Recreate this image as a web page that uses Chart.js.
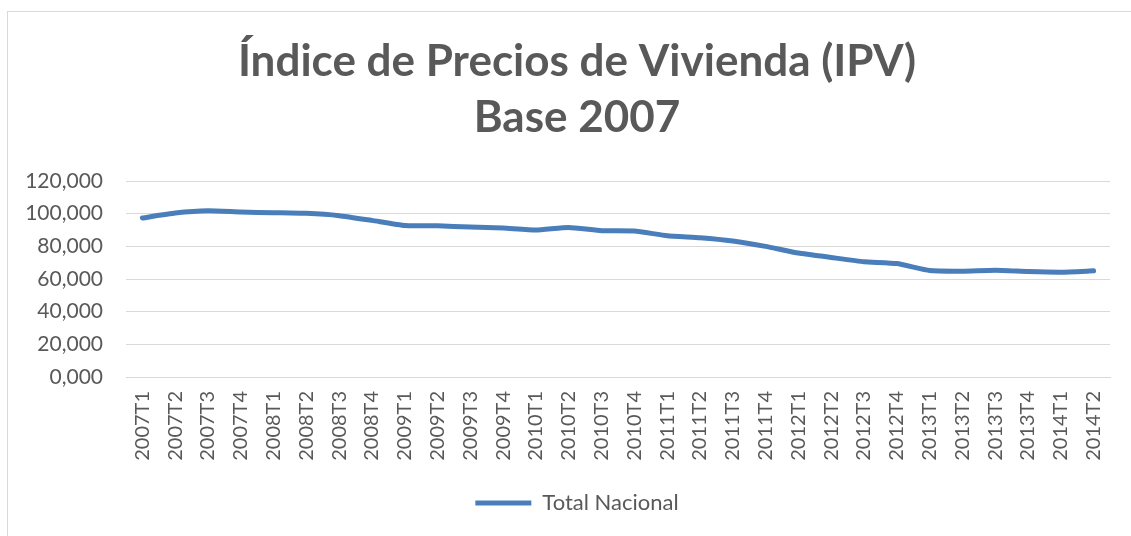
<!DOCTYPE html>
<html>
<head>
<meta charset="utf-8">
<script src="https://cdn.jsdelivr.net/npm/chart.js@4"></script>
<style>
  html, body { margin: 0; padding: 0; background: #fff; overflow: hidden; }
  #box {
    position: absolute; left: 7px; top: 11px;
    width: 1138px; height: 530px;
    border: 1px solid #d9d9d9;
  }
</style>
</head>
<body>
<div id="box"><canvas id="chart"></canvas></div>
<script>
const quarters = [
  "2007T1", "2007T2", "2007T3", "2007T4",
  "2008T1", "2008T2", "2008T3", "2008T4",
  "2009T1", "2009T2", "2009T3", "2009T4",
  "2010T1", "2010T2", "2010T3", "2010T4",
  "2011T1", "2011T2", "2011T3", "2011T4",
  "2012T1", "2012T2", "2012T3", "2012T4",
  "2013T1", "2013T2", "2013T3", "2013T4",
  "2014T1", "2014T2",
];

const totalNacional = [
  97.4, 100.4, 101.8, 101.0,
  100.6, 100.2, 98.8, 95.9,
  92.8, 92.6, 91.8, 91.2,
  90.0, 91.6, 89.6, 89.4,
  86.5, 85.3, 83.3, 80.0,
  75.9, 73.2, 70.6, 69.5,
  65.2, 64.8, 65.4, 64.6,
  64.2, 65.0,
];

const titleLines = ["Índice de Precios de Vivienda (IPV)", "Base 2007"];
const seriesName = "Total Nacional";

const textColor = "#595959";
const gridColor = "#d9d9d9";
const lineColor = "#4a7ebb";

new Chart(document.getElementById("chart"), {
  type: "line",
  data: {
    labels: quarters,
    datasets: [
      {
        label: seriesName,
        data: totalNacional,
        borderColor: lineColor,
        backgroundColor: lineColor,
        borderWidth: 5,
        borderCapStyle: "round",
        borderJoinStyle: "round",
        pointRadius: 0,
        tension: 0.15,
      },
    ],
  },
  options: {
    responsive: true,
    maintainAspectRatio: false,
    animation: false,
    layout: { padding: { left: 0, right: 0, top: 22, bottom: 18 } },
    plugins: {
      title: {
        display: true,
        text: titleLines,
        color: textColor,
        font: { family: "Lato", size: 44, weight: "bold", lineHeight: 1.273 },
        padding: { top: 0, bottom: 35 },
      },
      legend: {
        position: "bottom",
        labels: {
          color: textColor,
          font: { family: "Lato", size: 22 },
          boxWidth: 56,
          boxHeight: 5,
          generateLabels: (chart) =>
            chart.data.datasets.map((ds, i) => ({
              text: ds.label,
              fillStyle: ds.borderColor,
              strokeStyle: ds.borderColor,
              lineWidth: 0,
              fontColor: textColor,
              datasetIndex: i,
            })),
        },
      },
      tooltip: { enabled: false },
    },
    scales: {
      x: {
        offset: true,
        afterFit: (scale) => { scale.height = 105; },
        grid: { display: false },
        border: { color: gridColor },
        ticks: {
          color: textColor,
          font: { family: "Lato", size: 20 },
          maxRotation: 90,
          minRotation: 90,
          autoSkip: false,
          padding: 6,
        },
      },
      y: {
        min: 0,
        max: 120,
        afterFit: (scale) => { scale.width = 118; },
        grid: { color: gridColor, drawTicks: false },
        border: { display: false },
        ticks: {
          stepSize: 20,
          color: textColor,
          font: { family: "Lato", size: 21 },
          padding: 23,
          callback: (v) => v.toFixed(3).replace(".", ","),
        },
      },
      // empty right-hand axis: keeps the plot narrower while title and legend stay centred
      yRight: {
        type: "linear",
        position: "right",
        afterFit: (scale) => { scale.width = 36; },
        grid: { display: false },
        border: { display: false },
        ticks: { display: false },
      },
    },
  },
});
</script>
</body>
</html>
